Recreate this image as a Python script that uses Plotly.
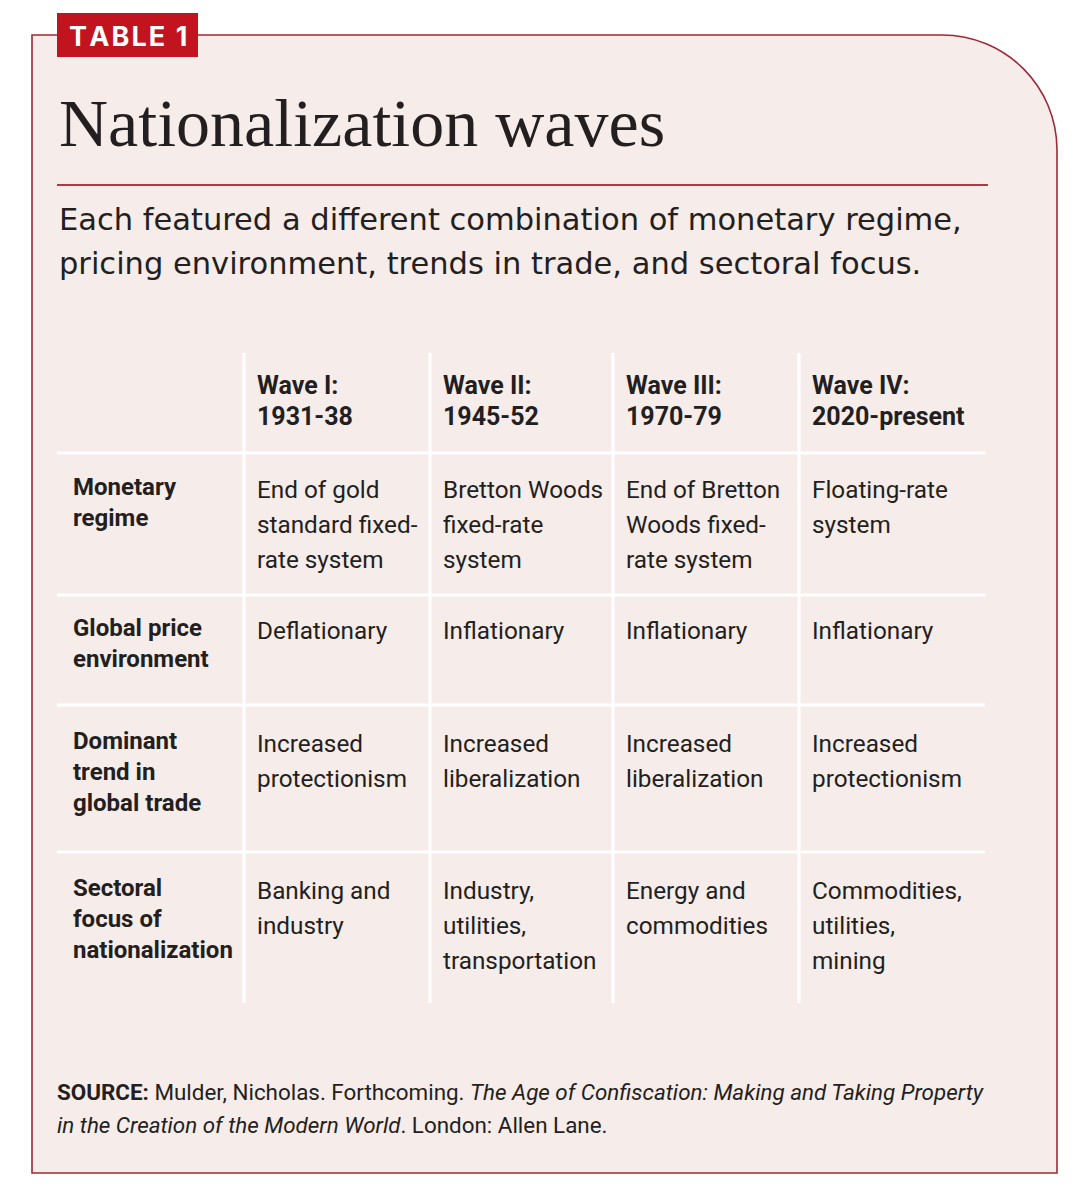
import plotly.graph_objects as go

# ---------------- data ----------------
tag_label = "TABLE 1"
title_text = "Nationalization waves"
subtitle_lines = [
    "Each featured a different combination of monetary regime,",
    "pricing environment, trends in trade, and sectoral focus.",
]
wave_names = ["Wave I:", "Wave II:", "Wave III:", "Wave IV:"]
wave_periods = ["1931-38", "1945-52", "1970-79", "2020-present"]
row_labels = [
    ["Monetary", "regime"],
    ["Global price", "environment"],
    ["Dominant", "trend in", "global trade"],
    ["Sectoral", "focus of", "nationalization"],
]
monetary_regime = [
    ["End of gold", "standard fixed-", "rate system"],
    ["Bretton Woods", "fixed-rate", "system"],
    ["End of Bretton", "Woods fixed-", "rate system"],
    ["Floating-rate", "system"],
]
price_environment = [["Deflationary"], ["Inflationary"], ["Inflationary"], ["Inflationary"]]
trade_trend = [
    ["Increased", "protectionism"],
    ["Increased", "liberalization"],
    ["Increased", "liberalization"],
    ["Increased", "protectionism"],
]
sectoral_focus = [
    ["Banking and", "industry"],
    ["Industry,", "utilities,", "transportation"],
    ["Energy and", "commodities"],
    ["Commodities,", "utilities,", "mining"],
]
source_lines = [
    "<b>SOURCE:</b> Mulder, Nicholas. Forthcoming. <i>The Age of Confiscation: Making and Taking Property</i>",
    "<i>in the Creation of the Modern World</i>. London: Allen Lane.",
]

# ---------------- layout constants ----------------
PAGE_W, PAGE_H = 1082, 1200
OFF = 8  # default page body margin; data coords are page pixels
BG = "#f6ecea"
BORDER = "#9e2a35"
RED = "#c1141f"
INK = "#231f20"
COND = "Roboto, Liberation Sans, sans-serif"

col_edges = [57, 244, 430, 613, 799, 985]
row_edges = [353, 453, 595, 705, 852, 1003]

fig = go.Figure()
fig.add_trace(go.Scatter(x=[OFF, PAGE_W], y=[OFF, PAGE_H], mode="markers",
                         marker=dict(opacity=0), hoverinfo="skip", showlegend=False))

shapes = []
# outer box with rounded top-right corner
L, T, R, B, r = 32, 35, 1057, 1173, 115
k = 0.5523 * r
path = (f"M {L},{T} L {R-r},{T} C {R-r+k},{T} {R},{T+r-k} {R},{T+r} "
        f"L {R},{B} L {L},{B} Z")
shapes.append(dict(type="path", path=path, xref="x", yref="y", fillcolor=BG,
                   line=dict(color=BORDER, width=1.6), layer="below"))
# tag
shapes.append(dict(type="rect", xref="x", yref="y", x0=57, x1=198, y0=13, y1=57,
                   fillcolor=RED, line=dict(width=0), layer="below"))
# rule under title
shapes.append(dict(type="line", xref="x", yref="y", x0=57, x1=988, y0=185, y1=185,
                   line=dict(color="#b03a41", width=1.8)))
# grid lines
for xv in col_edges[1:-1]:
    shapes.append(dict(type="line", xref="x", yref="y", x0=xv, x1=xv,
                       y0=row_edges[0], y1=row_edges[-1], line=dict(color="white", width=3)))
for yv in row_edges[1:-1]:
    shapes.append(dict(type="line", xref="x", yref="y", x0=col_edges[0], x1=col_edges[-1],
                       y0=yv, y1=yv, line=dict(color="white", width=3)))

ann = []
def txt(x, y, s, size, family, color=INK, anchor="left"):
    ann.append(dict(x=x, y=y, xref="x", yref="y", text=s, showarrow=False,
                    xanchor=anchor, yanchor="middle",
                    font=dict(size=size, family=family, color=color)))

HS = "\u200a"
txt(127.5, 36, "<b>" + HS.join(tag_label) + "</b>", 27, "Inter, Lato, sans-serif", "white", anchor="center")
txt(57, 123, title_text, 68, "Liberation Serif, DejaVu Serif, serif")
for i, s in enumerate(subtitle_lines):
    txt(57, 219 + i * 44, s, 30.5, "DejaVu Sans, sans-serif")

# header row
for j in range(4):
    x0 = col_edges[j + 1] + 11
    txt(x0, row_edges[0] + 32, "<b>" + wave_names[j] + "</b>", 25, COND)
    txt(x0, row_edges[0] + 63, "<b>" + wave_periods[j] + "</b>", 25, COND)

rows = [monetary_regime, price_environment, trade_trend, sectoral_focus]
offsets = [36, 35, 38, 38]
for i, row in enumerate(rows):
    top = row_edges[i + 1] + offsets[i]
    for li, s in enumerate(row_labels[i]):
        txt(71, top - 2 + li * 31, "<b>" + s + "</b>", 24, COND)
    for j, cell in enumerate(row):
        x0 = col_edges[j + 1] + 11
        for li, s in enumerate(cell):
            txt(x0, top + li * 35, s, 24.3, COND)

for i, s in enumerate(source_lines):
    txt(55, 1092 + i * 33, s, 22.4, COND)

fig.update_layout(
    width=PAGE_W - OFF, height=PAGE_H - OFF, margin=dict(l=0, r=0, t=0, b=0),
    paper_bgcolor="white", plot_bgcolor="white",
    xaxis=dict(range=[OFF, PAGE_W], visible=False, fixedrange=True),
    yaxis=dict(range=[PAGE_H, OFF], visible=False, fixedrange=True),
    shapes=shapes, annotations=ann, showlegend=False,
)
fig.write_html("out.html")
